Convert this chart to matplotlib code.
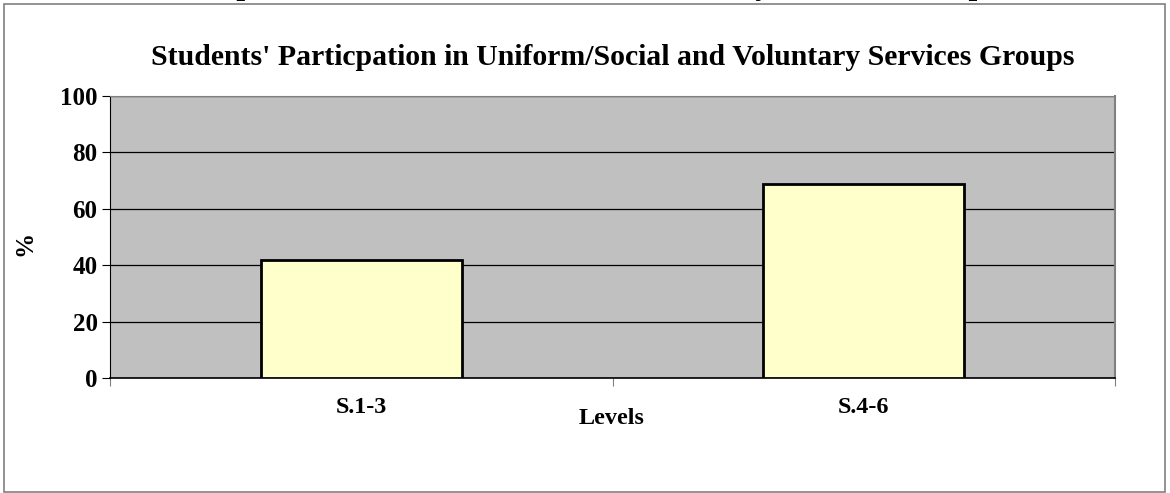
import matplotlib
matplotlib.use("Agg")
import matplotlib.pyplot as plt
from matplotlib.patches import Rectangle

plt.rcParams.update({"font.family": "Liberation Serif", "font.weight": "bold"})

levels = ["S.1-3", "S.4-6"]
pct = [41.8, 68.8]
yticks = [0, 20, 40, 60, 80, 100]
title = "Students' Particpation in Uniform/Social and Voluntary Services Groups"

fig = plt.figure(figsize=(11.7, 4.93), dpi=100)
W, H = 1170, 493

# outer chart frame
fig.add_artist(Rectangle((4 / W, 1 / H), 1161 / W, 488 / H, transform=fig.transFigure,
                         fill=False, ec="#808080", lw=1.2))
# heading from page above, clipped at the top edge
fig.text(509 / W, 1.0 + 6 / H, title, ha="center", va="baseline", fontsize=22.7, fontweight="bold")

ax = fig.add_axes([110 / W, 1 - 378 / H, 1005 / W, 282 / H])
ax.set_facecolor("#C0C0C0")
x = range(len(levels))
ax.bar(x, pct, width=0.4, color="#FFFFCC", edgecolor="black", linewidth=2, zorder=3)
ax.set_xlim(-0.5, 1.5)
ax.set_ylim(0, 100)
ax.set_yticks(yticks)
ax.yaxis.grid(True, color="black", lw=0.9, zorder=1)
ax.set_axisbelow(True)
ax.set_xticks([-0.5, 0.5, 1.5])
ax.set_xticklabels([])
ax.set_xticks(list(x), minor=True)
ax.set_xticklabels(levels, minor=True, fontsize=17.4, fontweight="bold")
ax.tick_params(axis="x", which="minor", length=0, pad=14)
ax.tick_params(axis="x", which="major", length=6, color="#808080")
ax.tick_params(axis="y", length=6, labelsize=18, pad=3)
for lab in ax.get_yticklabels():
    lab.set_fontweight("bold")
ax.spines["top"].set_color("#808080")
ax.spines["right"].set_color("#808080")
ax.spines["right"].set_linewidth(1.5)
ax.spines["left"].set_color("black")
ax.spines["bottom"].set_color("black")
ax.spines["bottom"].set_linewidth(1.2)

ax.set_title(title, fontsize=21.4, fontweight="bold", pad=22)
fig.text(612 / W, 1 - 418 / H, "Levels", ha="center", va="center", fontsize=17.4, fontweight="bold")
fig.text(25 / W, 1 - 243 / H, "%", ha="center", va="center", rotation=90, fontsize=18, fontweight="bold")

fig.savefig("out.png", dpi=100)
